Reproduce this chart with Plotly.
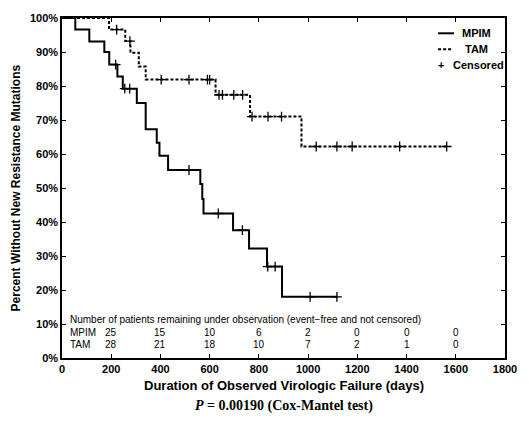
import numpy as np
import plotly.graph_objects as go

# Kaplan-Meier step data (days, percent)
mpim_times = [0, 54, 111, 172, 192, 225, 247, 304, 340, 385, 396, 431, 562, 570, 575, 695, 760, 833, 894, 1117]
mpim_surv = [100, 96.6, 93.1, 90.0, 86.3, 82.8, 79.2, 75.0, 67.3, 63.3, 59.5, 55.3, 51.2, 46.8, 42.5, 37.6, 32.2, 26.9, 18.0, 18.0]
mpim_censor = [218, 255, 275, 516, 635, 733, 836, 866, 1008, 1117]

tam_times = [0, 191, 257, 278, 312, 340, 624, 764, 973, 1563]
tam_surv = [100, 96.6, 93.2, 89.8, 85.7, 81.9, 77.4, 71.0, 62.2, 62.2]
tam_censor = [222, 276, 403, 516, 591, 600, 638, 652, 698, 734, 772, 837, 892, 1033, 1117, 1179, 1372, 1563]

# Numbers at risk
risk_times = [200, 400, 600, 800, 1000, 1200, 1400, 1600]
risk_mpim = [25, 15, 10, 6, 2, 0, 0, 0]
risk_tam = [28, 21, 18, 10, 7, 2, 1, 0]

x_ticks = [0, 200, 400, 600, 800, 1000, 1200, 1400, 1600, 1800]
y_ticks = list(range(0, 101, 10))
y_tick_labels = [f"{v}%" for v in y_ticks]


def step_value(times, surv, t):
    idx = np.searchsorted(times, t, side="right") - 1
    return surv[idx]


mpim_cy = [step_value(mpim_times, mpim_surv, t) for t in mpim_censor]
tam_cy = [step_value(tam_times, tam_surv, t) for t in tam_censor]

FONT = "Arial"
W, H = 529, 421
L, R, T, B = 62, 20, 18, 63
PW, PH = W - L - R, H - T - B


def px(xp):
    return (xp - L) / PW


def py(yp):
    return (H - B - yp) / PH


fig = go.Figure()
fig.add_trace(go.Scatter(x=mpim_times, y=mpim_surv, mode="lines", line_shape="hv",
                         line=dict(color="black", width=2), name="MPIM"))
fig.add_trace(go.Scatter(x=tam_times, y=tam_surv, mode="lines", line_shape="hv",
                         line=dict(color="black", width=2, dash="3px,2px"), name="TAM"))
fig.add_trace(go.Scatter(x=mpim_censor, y=mpim_cy, mode="markers",
                         marker=dict(symbol="cross-thin", size=7, line=dict(color="black", width=1.3)),
                         name="Censored"))
fig.add_trace(go.Scatter(x=tam_censor, y=tam_cy, mode="markers",
                         marker=dict(symbol="cross-thin", size=7, line=dict(color="black", width=1.3)),
                         name="Censored"))

ann = []
tfont = dict(family=FONT, size=10, color="black")
ann.append(dict(x=26, y=11.3, xref="x", yref="y", xanchor="left", yanchor="middle", showarrow=False,
                text="Number of patients remaining under observation (event\u2212free and not censored)",
                font=tfont))
ann.append(dict(x=26, y=7.6, xref="x", yref="y", xanchor="left", yanchor="middle", showarrow=False,
                text="MPIM", font=tfont))
ann.append(dict(x=26, y=4.0, xref="x", yref="y", xanchor="left", yanchor="middle", showarrow=False,
                text="TAM", font=tfont))
for t, a, b in zip(risk_times, risk_mpim, risk_tam):
    ann.append(dict(x=t, y=7.6, xref="x", yref="y", xanchor="center", yanchor="middle", showarrow=False,
                    text=str(a), font=tfont))
    ann.append(dict(x=t, y=4.0, xref="x", yref="y", xanchor="center", yanchor="middle", showarrow=False,
                    text=str(b), font=tfont))

# axis titles and footnote
ann.append(dict(x=0.5, y=py(385), xref="paper", yref="paper", xanchor="center", yanchor="middle",
                showarrow=False, text="<b>Duration of Observed Virologic Failure (days)</b>",
                font=dict(family=FONT, size=13, color="black")))
ann.append(dict(x=0.5, y=py(406), xref="paper", yref="paper", xanchor="center", yanchor="middle",
                showarrow=False, text="<b><i>P</i> = 0.00190 (Cox-Mantel test)</b>",
                font=dict(family="Liberation Serif", size=14, color="black")))
ann.append(dict(x=px(16), y=py(188), xref="paper", yref="paper", xanchor="center", yanchor="middle",
                showarrow=False, textangle=-90, text="<b>Percent Without New Resistance Mutations</b>",
                font=dict(family=FONT, size=12, color="black")))

# legend (manual)
lfont = dict(family=FONT, size=11, color="black", weight="bold")
ann.append(dict(x=px(464), y=py(33), xref="paper", yref="paper", xanchor="left", yanchor="middle",
                showarrow=False, text="MPIM", font=lfont))
ann.append(dict(x=px(467), y=py(49), xref="paper", yref="paper", xanchor="left", yanchor="middle",
                showarrow=False, text="TAM", font=lfont))
ann.append(dict(x=px(444), y=py(65), xref="paper", yref="paper", xanchor="center", yanchor="middle",
                showarrow=False, text="+", font=lfont))
ann.append(dict(x=px(455), y=py(65), xref="paper", yref="paper", xanchor="left", yanchor="middle",
                showarrow=False, text="Censored", font=lfont))
shapes = [
    dict(type="line", xref="paper", yref="paper", x0=px(441.5), x1=px(457.5), y0=py(33.3), y1=py(33.3),
         line=dict(color="black", width=2)),
    dict(type="line", xref="paper", yref="paper", x0=px(441.5), x1=px(455.5), y0=py(49.3), y1=py(49.3),
         line=dict(color="black", width=2, dash="3px,2px")),
]

axis_common = dict(showline=True, linecolor="black", linewidth=1.5, mirror="ticks", ticks="inside",
                   ticklen=4, tickcolor="black", showgrid=False, zeroline=False,
                   tickfont=dict(family=FONT, size=11, color="black", weight="bold"))

fig.update_layout(
    width=W, height=H,
    margin=dict(l=L, r=R, t=T, b=B),
    paper_bgcolor="white", plot_bgcolor="white",
    showlegend=False,
    annotations=ann,
    shapes=shapes,
    xaxis=dict(range=[0, 1800], tickvals=x_ticks, ticktext=[str(v) for v in x_ticks], **axis_common),
    yaxis=dict(range=[0, 100], tickvals=y_ticks, ticktext=y_tick_labels, **axis_common),
)

fig.write_html("out.html", config={"displayModeBar": False},
               post_script="document.body.style.margin='0';document.body.style.padding='0';")
